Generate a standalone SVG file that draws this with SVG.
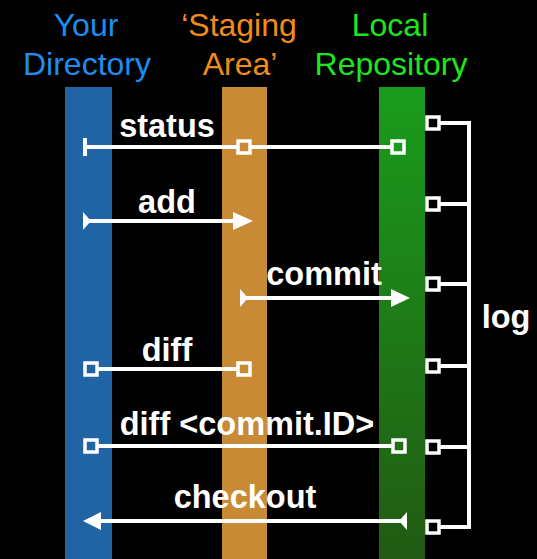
<svg xmlns="http://www.w3.org/2000/svg" width="537" height="559" viewBox="0 0 537 559">
<style>
.hd{font-family:"Liberation Sans",Arial,sans-serif;font-size:32px;text-anchor:middle}
.lb{font-family:"Liberation Sans",Arial,sans-serif;font-size:32.5px;font-weight:bold;fill:#fff;text-anchor:middle}
.ln{stroke:#fff;stroke-width:4;fill:none}
.sq{stroke:#fff;stroke-width:3.5}
.hw{fill:#fff}
</style>
<defs>
<linearGradient id="gg" x1="0" y1="0" x2="0" y2="1">
<stop offset="0" stop-color="#1a9c1c"/>
<stop offset="1" stop-color="#225a13"/>
</linearGradient>
</defs>
<rect width="537" height="559" fill="#000"/>
<g id="dir">
<rect x="65" y="87" width="47" height="472" fill="#2064a6"/>
<text class="hd" fill="#1a8ef2" x="86" y="36">Your</text>
<text class="hd" fill="#1a8ef2" x="87" y="75">Directory</text>
</g>
<g id="stage">
<rect x="222" y="87" width="45" height="472" fill="#c98a35"/>
<text class="hd" fill="#f08c18" x="239" y="36">‘Staging</text>
<text class="hd" fill="#f08c18" x="240" y="75">Area’</text>
</g>
<g id="repo">
<rect x="379" y="87" width="46" height="472" fill="url(#gg)"/>
<text class="hd" fill="#1ee61e" x="390" y="36">Local</text>
<text class="hd" fill="#1ee61e" x="391" y="75">Repository</text>
</g>
<g id="connectors">
<line class="ln" x1="85" y1="147" x2="398" y2="147"/>
<line class="ln" x1="85" y1="138" x2="85" y2="156"/>
<rect class="sq" x="238" y="141" width="12" height="12" fill="#c98a35"/>
<rect class="sq" x="392" y="141" width="12" height="12" fill="#1a9a1c"/>
<text class="lb" x="167" y="137">status</text>
<line class="ln" x1="85" y1="221" x2="236" y2="221"/>
<polygon class="hw" points="83,212 91,221 83,230"/>
<polygon class="hw" points="233,212 253,221 233,230"/>
<text class="lb" x="167" y="213">add</text>
<line class="ln" x1="242" y1="298" x2="394" y2="298"/>
<polygon class="hw" points="240,289 248,298 240,307"/>
<polygon class="hw" points="391,289 410,298 391,307"/>
<text class="lb" x="324" y="285">commit</text>
<line class="ln" x1="91" y1="369" x2="244" y2="369"/>
<rect class="sq" x="85" y="363" width="12" height="12" fill="#2064a6"/>
<rect class="sq" x="238" y="363" width="12" height="12" fill="#c98a35"/>
<text class="lb" x="167" y="361">diff</text>
<line class="ln" x1="91" y1="446" x2="399" y2="446"/>
<rect class="sq" x="85" y="440" width="12" height="12" fill="#2064a6"/>
<rect class="sq" x="393" y="440" width="12" height="12" fill="#236d17"/>
<text class="lb" x="247" y="435">diff &lt;commit.ID&gt;</text>
<line class="ln" x1="98" y1="521" x2="406" y2="521"/>
<polygon class="hw" points="83,521 101,512 101,530"/>
<polygon class="hw" points="407,512 399,521 407,530"/>
<text class="lb" x="245" y="508">checkout</text>
<path class="ln" d="M433,123H469V527H433M433,204H469M433,284H469M433,366H469M433,447H469"/>
<g fill="#000">
<rect class="sq" x="427" y="117" width="12" height="12"/>
<rect class="sq" x="427" y="198" width="12" height="12"/>
<rect class="sq" x="427" y="278" width="12" height="12"/>
<rect class="sq" x="427" y="360" width="12" height="12"/>
<rect class="sq" x="427" y="441" width="12" height="12"/>
<rect class="sq" x="427" y="521" width="12" height="12"/>
</g>
<text class="lb" x="506" y="328">log</text>
</g>
</svg>
